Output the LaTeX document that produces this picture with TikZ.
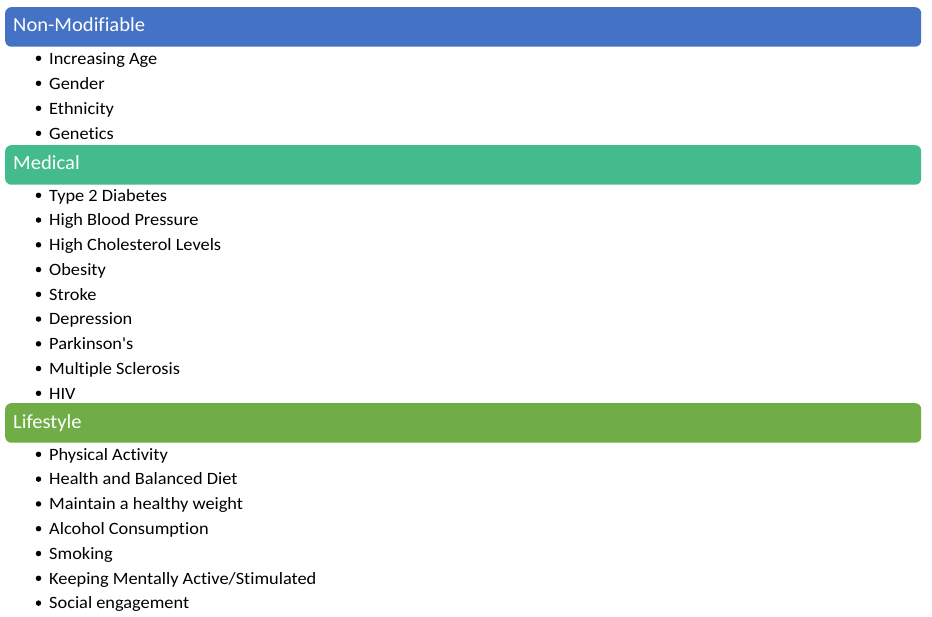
\documentclass[tikz,border=0pt]{standalone}
\usepackage{fontspec}
\setmainfont{Carlito}
\usepackage{xcolor}
\usetikzlibrary{positioning}
\definecolor{nonmodblue}{HTML}{4472C4}
\definecolor{medgreen}{HTML}{44BB8C}
\definecolor{lifegreen}{HTML}{70AD47}
\newfontfamily\headfont[FakeStretch=1.03, Ligatures=NoCommon]{Carlito}
\newfontfamily\itemfont[FakeStretch=1.06, Ligatures=NoCommon]{Carlito}
\tikzstyle{headbar} = [rectangle, rounded corners=6pt, minimum width=916pt, minimum height=39.5pt, inner sep=0pt, anchor=north west]
\tikzstyle{headtitle} = [text=white, font=\headfont\fontsize{20}{24}\selectfont, inner sep=0pt, anchor=base west]
\tikzstyle{item} = [font=\itemfont\fontsize{17.3}{20}\selectfont, inner sep=0pt, anchor=base west]
\tikzstyle{dot} = [fill=black, circle, inner sep=0pt, minimum size=5.5pt]

\begin{document}
\begin{tikzpicture}[x=1pt, y=-1pt]
\useasboundingbox (0,0) rectangle (932,616);
% Non-Modifiable
\node[headbar, fill=nonmodblue] (nonmodbar) at (5,7) {};
\node[headtitle] (nonmodtitle) at (13,31.5) {Non-Modifiable};
\foreach \name [count=\i] in {Increasing Age, Gender, Ethnicity, Genetics}{
  \node[dot] (nonmoddot\i) at (38.5,{64+25*(\i-1)-5.7}) {};
  \node[item] (nonmod\i) at (49,{64+25*(\i-1)}) {\name};
}
% Medical
\node[headbar, fill=medgreen] (medbar) at (5,145) {};
\node[headtitle] (medtitle) at (13,169.5) {Medical};
\foreach \name [count=\i] in {Type 2 Diabetes, High Blood Pressure, High Cholesterol Levels, Obesity, Stroke, Depression, Parkinson's, Multiple Sclerosis, HIV}{
  \node[dot] (meddot\i) at (38.5,{201+24.75*(\i-1)-5.7}) {};
  \node[item] (med\i) at (49,{201+24.75*(\i-1)}) {\name};
}
% Lifestyle
\node[headbar, fill=lifegreen] (lifebar) at (5,403) {};
\node[headtitle] (lifetitle) at (13,428) {Lifestyle};
\foreach \name [count=\i] in {Physical Activity, Health and Balanced Diet, Maintain a healthy weight, Alcohol Consumption, Smoking, Keeping Mentally Active/Stimulated, Social engagement}{
  \node[dot] (lifedot\i) at (38.5,{460+24.8*(\i-1)-5.7}) {};
  \node[item] (life\i) at (49,{460+24.8*(\i-1)}) {\name};
}
\end{tikzpicture}
\end{document}
